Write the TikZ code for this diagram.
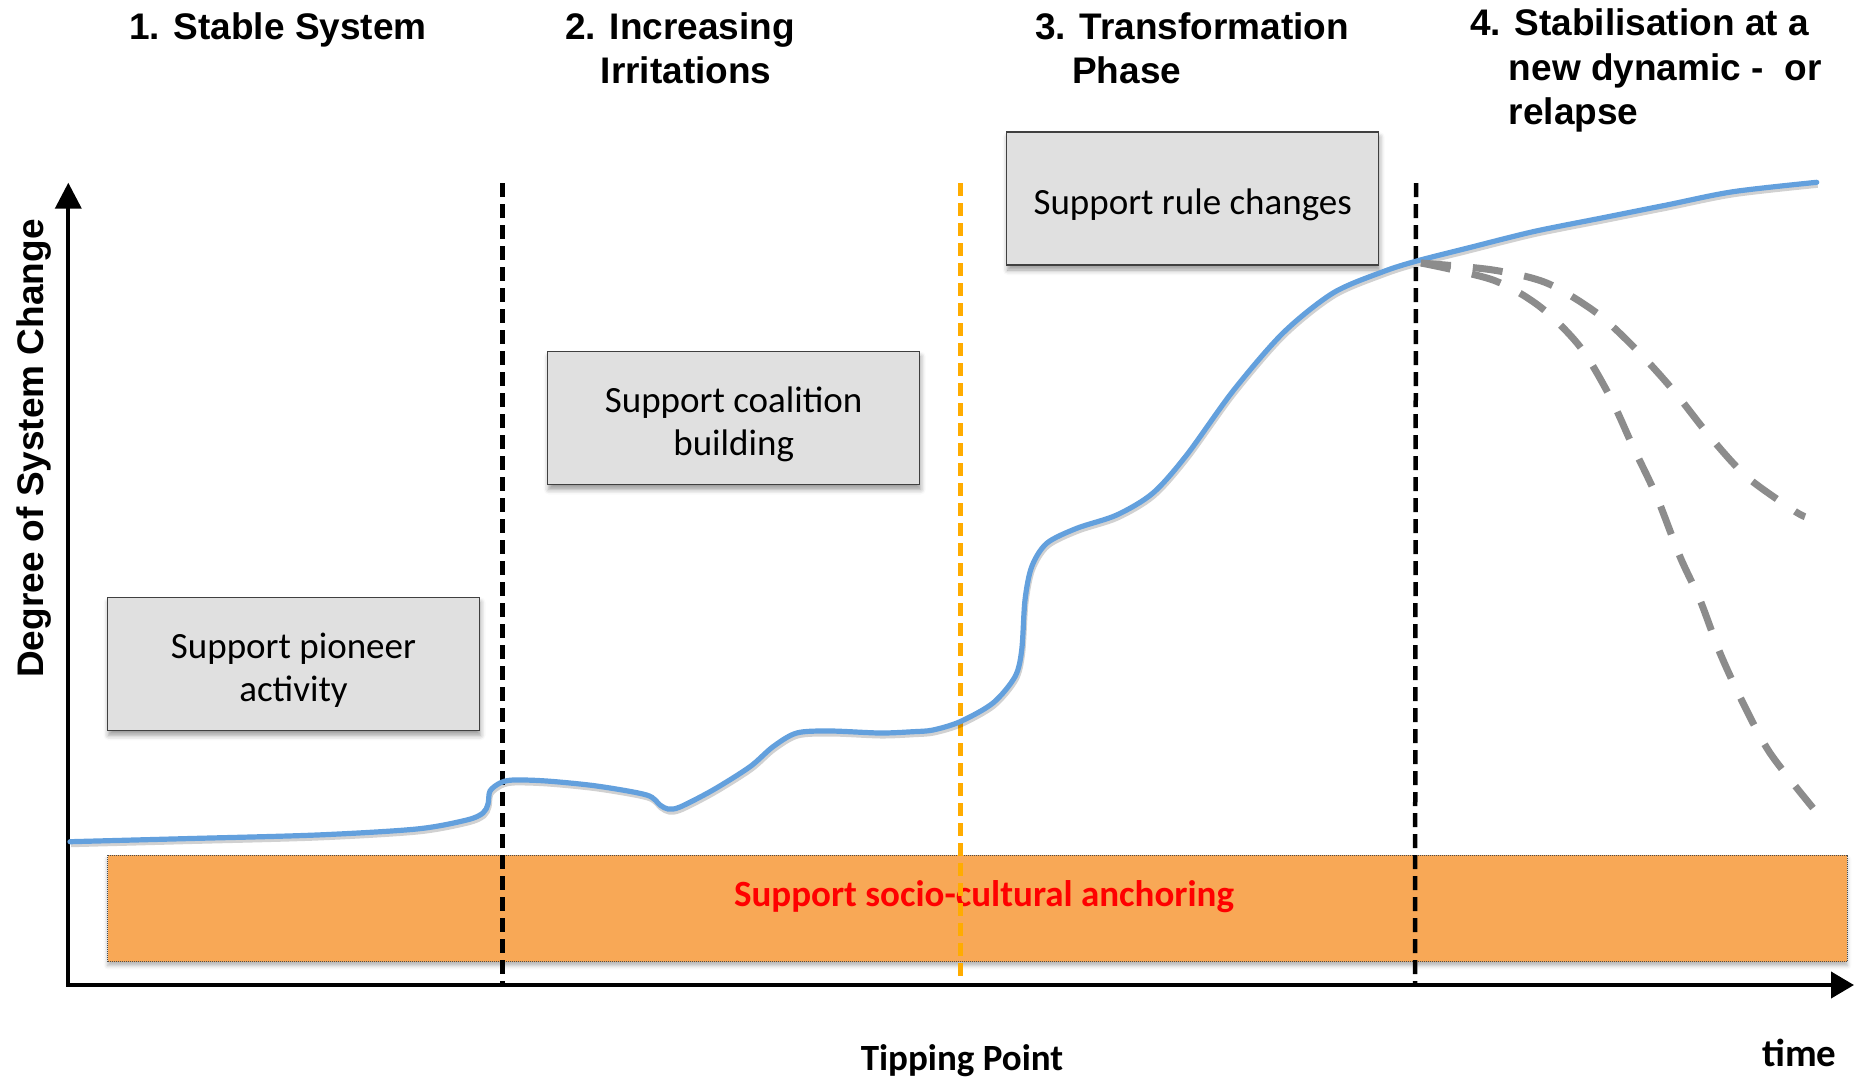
\documentclass[tikz,border=0pt]{standalone}
\usepackage{fontspec}
\setmainfont{Carlito}
\newfontfamily\hdr{Liberation Sans}
\usetikzlibrary{arrows.meta,shadows.blur}
\definecolor{boxgray}{RGB}{224,224,224}
\definecolor{bandorange}{RGB}{248,168,86}
\definecolor{curveblue}{RGB}{99,160,221}
\definecolor{tipgold}{RGB}{255,172,0}
\definecolor{relgray}{RGB}{140,140,140}
\begin{document}
\begin{tikzpicture}[x=1pt,y=-1pt,
  hdrtext/.style={anchor=base west, inner sep=0pt, font=\hdr\bfseries\fontsize{37}{44}\selectfont},
  supbox/.style={rectangle, draw=black!75, line width=1.5pt, fill=boxgray,
    minimum width=372pt, minimum height=133pt, inner sep=0pt,
    blur shadow={shadow xshift=1pt, shadow yshift=-5pt, shadow blur radius=5pt, shadow opacity=40}},
  boxtext/.style={align=center, inner sep=0pt, font=\fontsize{37}{43}\selectfont},
  bandbox/.style={rectangle, draw=black!70, line width=1pt, dash pattern=on 1pt off 1pt,
    fill=bandorange, minimum width=1739.6pt, minimum height=106.5pt, inner sep=0pt,
    blur shadow={shadow xshift=0pt, shadow yshift=-4pt, shadow blur radius=4pt, shadow opacity=30}},
  phaseline/.style={line width=4.5pt, dash pattern=on 14pt off 7pt},
  tipline/.style={line width=4.5pt, tipgold, dash pattern=on 13pt off 7pt},
  axisline/.style={line width=4pt, black,
    {Triangle[length=26pt,width=26pt]}-{Triangle[length=23pt,width=26pt]}},
  growth/.style={line width=5.2pt, curveblue, line cap=round,
    preaction={draw=black, opacity=0.18, line width=5pt, transform canvas={xshift=1pt,yshift=-3pt}}},
  relapse/.style={line width=7pt, relgray, dash pattern=on 30pt off 22pt}
]
\useasboundingbox (0,0) rectangle (1854,1077);

% headers
\node[hdrtext] (h1) at (129,39.5) {1. Stable System};
\node[hdrtext] (h2a) at (565,39.5) {2. Increasing};
\node[hdrtext] (h2b) at (600.6,83.5) {Irritations};
\node[hdrtext] (h3a) at (1035,39.5) {3. Transformation};
\node[hdrtext] (h3b) at (1072,83.5) {Phase};
\node[hdrtext] (h4a) at (1470,35.5) {4. Stabilisation at a};
\node[hdrtext] (h4b) at (1508.7,80) {new dynamic -\ \ or};
\node[hdrtext] (h4c) at (1508.7,124.5) {relapse};

% anchoring band
\node[bandbox] (band) at (977.5,908.25) {};
\node[anchor=base, inner sep=0pt, text=red, font=\bfseries\fontsize{37}{44}\selectfont] (bandlabel) at (984,906.5) {Support socio-cultural anchoring};

% support boxes
\node[supbox] (pioneer) at (293.5,663.8) {};
\node[boxtext] (pioneertext) at ([yshift=-6pt]pioneer.center) {Support pioneer\\activity};
\node[supbox] (coalition) at (733.7,418) {};
\node[boxtext] (coalitiontext) at ([yshift=-6pt]coalition.center) {Support coalition\\building};
\node[supbox] (rules) at (1192.7,198.5) {};
\node[boxtext] (rulestext) at ([yshift=-6pt]rules.center) {Support rule changes};

% phase separators
\coordinate (s1t) at (502.5,183); \coordinate (s1b) at (502.5,986);
\coordinate (tpt) at (960.3,183); \coordinate (tpb) at (960.3,986);
\coordinate (s3t) at (1416,183); \coordinate (s3b) at (1415,986);
\draw[phaseline] (s1t) -- (s1b);
\draw[tipline] (tpt) -- (tpb);
\draw[phaseline] (s3t) -- (s3b);

% axes
\coordinate (ytop) at (68.3,182.7);
\coordinate (orig) at (68.3,985);
\coordinate (xend) at (1854,985);
\draw[axisline] (ytop) -- (orig) -- (xend);

% growth curve
\draw[growth] plot[smooth, tension=0.5] coordinates {
 (70,841.7) (183,838.7) (316.7,835) (416.7,829) (466.7,820) (483,813) (488,804)
 (490,791) (500,783) (513,780) (546.7,781) (596.7,786) (646.7,795) (660,805)
 (668,809) (680,807) (713,790) (750,766.7) (773,746.7) (796.7,733) (830,731)
 (880,733) (913,731.7) (933,730) (960,721.7) (993,703) (1015,676.7) (1021.7,650)
 (1025,600) (1031.7,566.7) (1046.7,543.3) (1076.7,528.3) (1116.7,515) (1153,493)
 (1186.7,455) (1233,391) (1283,333) (1333,293) (1383,271.7) (1416.7,261)
 (1466.7,248.3) (1533,231.7) (1600,218.3) (1666.7,205) (1733,191.7) (1816.7,182.3)};

% relapse curves
\draw[relapse] plot[smooth, tension=0.5] coordinates {
 (1421,263) (1493,270) (1546.7,283) (1596.7,313) (1636.7,350) (1673,390)
 (1710,436.7) (1746.7,476.7) (1793,510) (1805,516.7)};
\draw[relapse] plot[smooth, tension=0.5] coordinates {
 (1421,263) (1493,280) (1540,306.7) (1580,346.7) (1610,396.7) (1633,446.7)
 (1656.7,496.7) (1680,556.7) (1700,600) (1720,653) (1743,703) (1770,753) (1813,808)};

% axis labels
\node[anchor=base west, rotate=90, inner sep=0pt, font=\hdr\bfseries\fontsize{37}{44}\selectfont] (ylab) at (43.5,678) {Degree of System Change};
\node[anchor=base, inner sep=0pt, font=\bfseries\fontsize{37}{44}\selectfont] (tiplabel) at (962,1070.5) {Tipping Point};
\node[anchor=base west, inner sep=0pt, font=\bfseries\fontsize{39}{46}\selectfont] (timelabel) at (1762,1066) {time};
\end{tikzpicture}
\end{document}
